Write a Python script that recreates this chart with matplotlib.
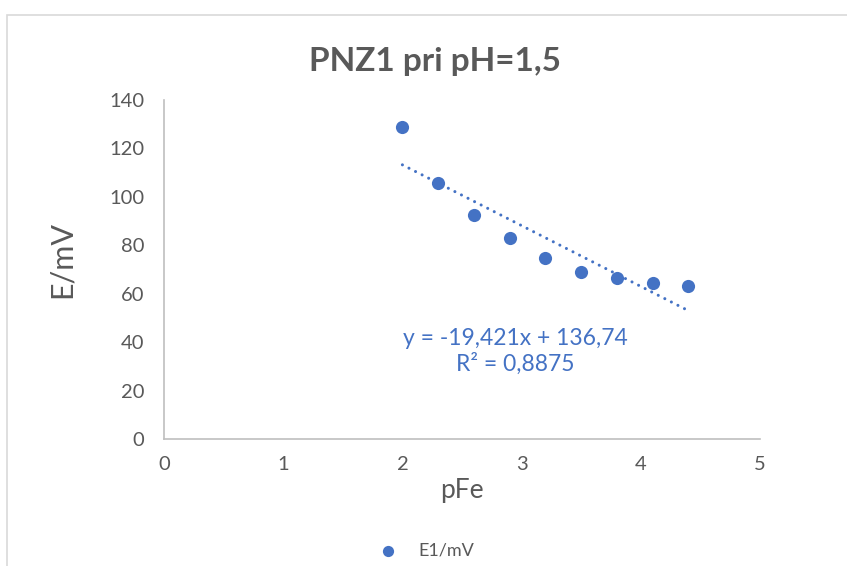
import numpy as np
import matplotlib
matplotlib.use("Agg")
import matplotlib.pyplot as plt
from matplotlib.patches import Rectangle

plt.rcParams['font.family'] = ['Lato', 'DejaVu Sans']

# measured series
pFe = [2.0, 2.3, 2.6, 2.9, 3.2, 3.5, 3.8, 4.1, 4.4]
E1_mV = [128.7, 105.9, 92.5, 82.9, 74.6, 69.1, 66.4, 64.6, 63.2]
x_ticks = [0, 1, 2, 3, 4, 5]
y_ticks = [0, 20, 40, 60, 80, 100, 120, 140]
trend_label = "y = -19,421x + 136,74\nR² = 0,8875"

blue = "#4472C4"
gray = "#595959"

fig = plt.figure(figsize=(8.47, 5.66), dpi=100)
fig.patches.append(Rectangle((7 / 847, -0.1), 1.2, 1 - 15 / 566 + 0.1,
                             transform=fig.transFigure, fill=False,
                             edgecolor="#D9D9D9", linewidth=1.2))

ax = fig.add_axes([164 / 847, 1 - 439 / 566, (760 - 164) / 847, (439 - 100) / 566])
ax.scatter(pFe, E1_mV, s=90, color=blue, zorder=3, label="E1/mV", linewidths=0)

# linear least-squares trendline
slope, intercept = np.polyfit(pFe, E1_mV, 1)
xs = np.array([min(pFe), max(pFe)])
ax.plot(xs, slope * xs + intercept, color=blue, linewidth=2.2,
        dashes=(0.01, 2.4), dash_capstyle="round", zorder=2)

ax.text(2.945, 36.3, trend_label, color=blue, fontsize=16.5, ha="center",
        va="center", linespacing=1.2)

ax.set_xlim(0, 5)
ax.set_ylim(0, 140)
ax.set_xticks(x_ticks)
ax.set_yticks(y_ticks)
ax.tick_params(length=0, labelsize=14.5, colors=gray, pad=12)
ax.tick_params(axis="y", pad=14)
for side in ("top", "right"):
    ax.spines[side].set_visible(False)
for side in ("left", "bottom"):
    ax.spines[side].set_color("#BFBFBF")
    ax.spines[side].set_linewidth(1.2)

ax.set_xlabel("pFe", fontsize=19, color=gray, labelpad=4)
fig.text(62 / 847, 1 - 260 / 566, "E/mV", fontsize=22, color=gray,
         rotation=90, ha="center", va="center")
fig.text(435 / 847, 1 - 61 / 566, "PNZ1 pri pH=1,5", fontsize=24, fontweight="bold",
         color=gray, ha="center", va="center")

leg = ax.legend(loc="center", bbox_to_anchor=(424 / 847, 1 - 551 / 566),
                bbox_transform=fig.transFigure, frameon=False, fontsize=13,
                handletextpad=0.9, handlelength=1.6, markerscale=0.85)
for t in leg.get_texts():
    t.set_color(gray)

fig.savefig("out.png", dpi=100)
